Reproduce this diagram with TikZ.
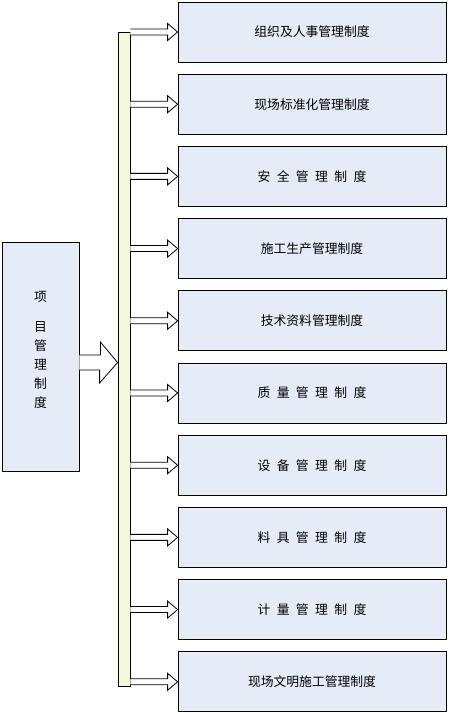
\documentclass[tikz,border=0pt]{standalone}
\usepackage{fontspec}
\setmainfont{Noto Sans CJK SC}
\usetikzlibrary{positioning, calc}

\definecolor{boxblue}{HTML}{E6ECF7}
\definecolor{barlime}{HTML}{F5F9DC}

\begin{document}
\begin{tikzpicture}[
  x=1pt, y=1pt, font=\fontsize{12.8}{19}\selectfont, node distance=11.4pt,
  item/.style={draw=black, line width=0.8pt, fill=boxblue, inner sep=0pt,
               minimum width=268pt, minimum height=60pt},
  projb/.style={item, minimum width=77pt, minimum height=229pt, align=center},
  busb/.style={draw=black, line width=0.8pt, fill=barlime, inner sep=0pt,
               minimum width=12pt, minimum height=654pt},
  barr/.style={draw=black, line width=0.8pt, fill=white, line join=miter},
]
\useasboundingbox (0,0) rectangle (448,713);

% ---- left: project box and the bus bar ----
\node[projb] (proj) at (40.5,356.5) {项\\[11pt]目\\管\\理\\制\\度\\[-4pt]\mbox{}};
\node[busb]  (bus)  at (124,354) {};

% ---- right: the ten rules ----
\node[item] (r1) at (312,681) {组织及人事管理制度};
\node[item, below=of r1] (r2)  {现场标准化管理制度};
\node[item, below=of r2] (r3)  {安\enspace 全\enspace 管\enspace 理\enspace 制\enspace 度};
\node[item, below=of r3] (r4)  {施工生产管理制度};
\node[item, below=of r4] (r5)  {技术资料管理制度};
\node[item, below=of r5] (r6)  {质\enspace 量\enspace 管\enspace 理\enspace 制\enspace 度};
\node[item, below=of r6] (r7)  {设\enspace 备\enspace 管\enspace 理\enspace 制\enspace 度};
\node[item, below=of r7] (r8)  {料\enspace 具\enspace 管\enspace 理\enspace 制\enspace 度};
\node[item, below=of r8] (r9)  {计\enspace 量\enspace 管\enspace 理\enspace 制\enspace 度};
\node[item, below=of r9] (r10) {现场文明施工管理制度};

% ---- block arrows ----
\coordinate (tip) at ($(bus.west |- proj.east)+(0,-6)$);
\draw[barr] ($(proj.east)+(0,1.5)$) -- ++(21,0) -- ++(0,13) -- (tip)
  -- ++(-18,-20.5) -- ++(0,13) -- ($(proj.east)+(0,-13.5)$);

\foreach \i in {1,...,10}
  \draw[barr] ($(bus.east |- r\i.west)+(0,3)$) -- ($(r\i.west)+(-10,3)$)
    -- ++(0,5.5) -- (r\i.west) -- ++(-10,-8.5) -- ++(0,5.5)
    -- ($(bus.east |- r\i.west)+(0,-3)$);

\end{tikzpicture}
\end{document}
